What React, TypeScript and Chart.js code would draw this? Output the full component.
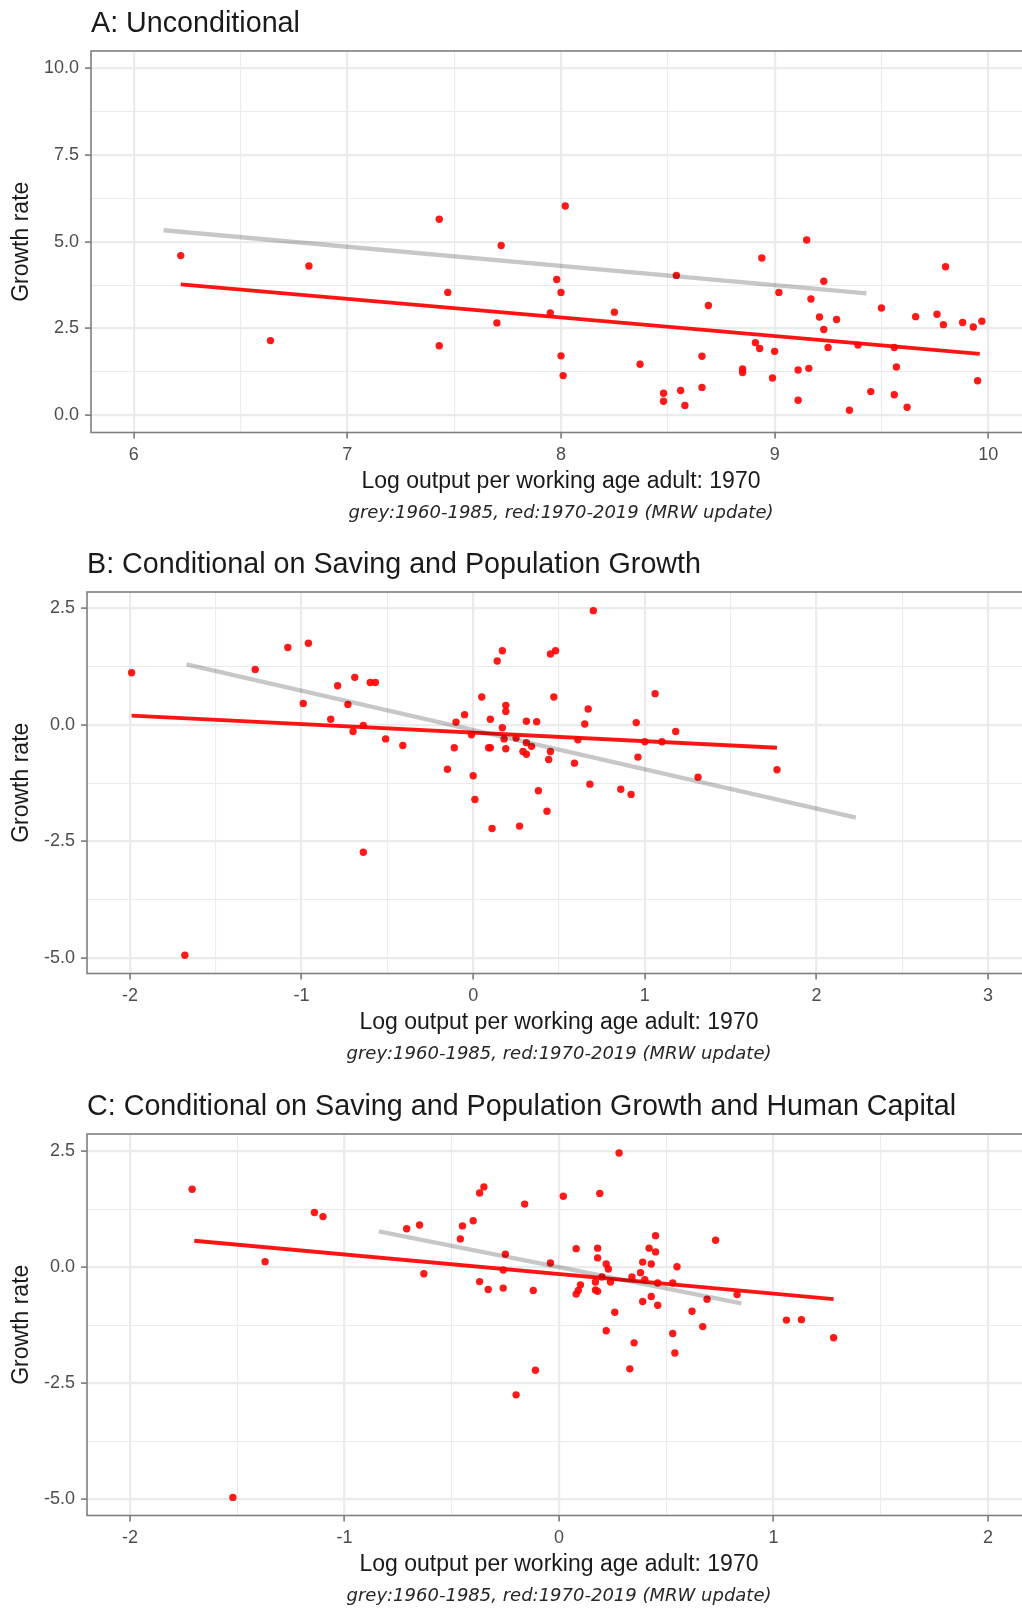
import React, { useEffect, useRef } from 'react';
import { Chart, registerables } from 'chart.js';

Chart.register(...registerables);

const SANS = "'Liberation Sans', Arial, sans-serif";
const OBLIQUE = "'DejaVu Sans', sans-serif";

const X_TITLE = 'Log output per working age adult: 1970';
const Y_TITLE = 'Growth rate';
const NOTE = 'grey:1960-1985, red:1970-2019 (MRW update)';

// ---- Panel A: unconditional ----
const A_TITLE = 'A: Unconditional';
const A_X_TICKS = [6, 7, 8, 9, 10];
const A_X_LABELS = ['6', '7', '8', '9', '10'];
const A_X_MINOR = [6.5, 7.5, 8.5, 9.5];
const A_Y_TICKS = [0, 2.5, 5, 7.5, 10];
const A_Y_LABELS = ['0.0', '2.5', '5.0', '7.5', '10.0'];
const A_Y_MINOR = [1.25, 3.75, 6.25, 8.75];
const A_X = [6.22, 6.64, 6.82, 7.43, 7.43, 7.47, 7.72, 7.7, 8.02, 7.98, 8.0, 7.95, 8.0, 8.01, 8.25, 8.37,
  8.54, 8.48, 8.48, 8.56, 8.58, 8.69, 8.66, 8.66, 8.85, 8.85, 8.91, 8.93, 8.94, 9.0, 9.02, 8.99, 9.11, 9.11,
  9.16, 9.15, 9.17, 9.23, 9.21, 9.23, 9.25, 9.29, 9.35, 9.39, 9.45, 9.5, 9.56, 9.57, 9.56, 9.62, 9.66, 9.76,
  9.79, 9.8, 9.88, 9.93, 9.97, 9.95];
const A_Y = [4.6, 2.15, 4.3, 5.65, 2.0, 3.54, 4.89, 2.66, 6.03, 3.91, 3.54, 2.95, 1.71, 1.14, 2.97, 1.47,
  4.03, 0.63, 0.4, 0.71, 0.28, 3.16, 1.7, 0.8, 1.33, 1.23, 2.09, 1.92, 4.53, 1.84, 3.54, 1.07, 1.3, 0.43,
  1.35, 5.05, 3.35, 3.86, 2.83, 2.47, 1.95, 2.76, 0.14, 2.02, 0.68, 3.09, 1.95, 1.39, 0.59, 0.23, 2.84, 2.91,
  2.61, 4.28, 2.67, 2.54, 2.71, 0.99];
const A_FIT_RED_X = [6.22, 9.96];
const A_FIT_RED_Y = [3.77, 1.77];
const A_FIT_GREY_X = [6.14, 9.43];
const A_FIT_GREY_Y = [5.33, 3.51];

// ---- Panel B: conditional on saving and population growth ----
const B_TITLE = 'B: Conditional on Saving and Population Growth';
const B_X_TICKS = [-2, -1, 0, 1, 2, 3];
const B_X_LABELS = ['-2', '-1', '0', '1', '2', '3'];
const B_X_MINOR = [-1.5, -0.5, 0.5, 1.5, 2.5];
const B_Y_TICKS = [-5, -2.5, 0, 2.5];
const B_Y_LABELS = ['-5.0', '-2.5', '0.0', '2.5'];
const B_Y_MINOR = [-3.75, -1.25, 1.25];
const B_X = [-1.99, -1.68, -1.27, -1.08, -0.96, -0.99, -0.83, -0.79, -0.73, -0.7, -0.69, -0.64, -0.64, -0.6,
  -0.57, -0.51, -0.41, -0.15, -0.11, -0.1, -0.05, -0.01, 0.0, 0.01, 0.05, 0.09, 0.1, 0.1, 0.11, 0.14, 0.17,
  0.17, 0.19, 0.19, 0.18, 0.19, 0.25, 0.27, 0.31, 0.37, 0.31, 0.34, 0.29, 0.31, 0.38, 0.43, 0.45, 0.48, 0.47,
  0.45, 0.44, 0.59, 0.65, 0.61, 0.67, 0.68, 0.7, 0.86, 0.92, 0.95, 0.96, 1.0, 1.06, 1.1, 1.18, 1.31, 1.77];
const B_Y = [1.12, -4.94, 1.19, 1.66, 1.75, 0.46, 0.12, 0.84, 0.44, -0.14, 1.02, -0.01, -2.73, 0.91, 0.91,
  -0.3, -0.44, -0.95, -0.49, 0.06, 0.22, -0.21, -1.09, -1.6, 0.6, -0.49, -0.49, 0.12, -2.22, 1.37, 1.59,
  -0.06, 0.42, 0.29, -0.3, -0.51, -0.28, -2.17, 0.08, 0.07, -0.38, -0.46, -0.57, -0.63, -1.41, -1.85, 1.52,
  1.59, 0.6, -0.57, -0.74, -0.82, 0.02, -0.32, 0.34, -1.27, 2.45, -1.38, -1.49, 0.05, -0.69, -0.36, 0.67,
  -0.36, -0.14, -1.12, -0.96];
const B_FIT_RED_X = [-1.99, 1.77];
const B_FIT_RED_Y = [0.2, -0.49];
const B_FIT_GREY_X = [-1.67, 2.23];
const B_FIT_GREY_Y = [1.3, -1.99];

// ---- Panel C: conditional on saving, population growth and human capital ----
const C_TITLE = 'C: Conditional on Saving and Population Growth and Human Capital';
const C_X_TICKS = [-2, -1, 0, 1, 2];
const C_X_LABELS = ['-2', '-1', '0', '1', '2'];
const C_X_MINOR = [-1.5, -0.5, 0.5, 1.5];
const C_Y_TICKS = [-5, -2.5, 0, 2.5];
const C_Y_LABELS = ['-5.0', '-2.5', '0.0', '2.5'];
const C_Y_MINOR = [-3.75, -1.25, 1.25];
const C_X = [-1.71, -1.52, -1.37, -1.14, -1.1, -0.71, -0.65, -0.63, -0.46, -0.45, -0.4, -0.37, -0.37, -0.35,
  -0.33, -0.26, -0.25, -0.26, -0.2, -0.16, -0.12, -0.11, -0.04, 0.02, 0.08, 0.08, 0.09, 0.1, 0.18, 0.18, 0.19,
  0.2, 0.17, 0.18, 0.17, 0.22, 0.23, 0.24, 0.22, 0.26, 0.28, 0.33, 0.35, 0.34, 0.38, 0.39, 0.39, 0.4, 0.42,
  0.43, 0.43, 0.45, 0.45, 0.46, 0.46, 0.53, 0.55, 0.53, 0.54, 0.62, 0.67, 0.69, 0.73, 0.83, 1.06, 1.13, 1.28];
const C_Y = [1.68, -4.96, 0.12, 1.18, 1.09, 0.83, 0.91, -0.14, 0.61, 0.89, 1.0, -0.31, 1.6, 1.73, -0.48,
  -0.45, 0.28, -0.06, -2.75, 1.36, -0.5, -2.22, 0.09, 1.53, 0.4, -0.58, -0.5, -0.38, 0.41, 0.2, 1.59, -0.21,
  -0.49, -0.52, -0.32, 0.07, -0.04, -0.32, -1.37, -0.97, 2.46, -2.19, -1.63, -0.21, -0.12, 0.11, -0.74,
  -0.27, 0.41, 0.07, -0.63, 0.33, 0.68, -0.82, -0.34, -0.34, 0.01, -1.43, -1.85, -0.95, -1.28, -0.69, 0.58,
  -0.59, -1.14, -1.13, -1.52];
const C_FIT_RED_X = [-1.7, 1.28];
const C_FIT_RED_Y = [0.57, -0.69];
const C_FIT_GREY_X = [-0.84, 0.85];
const C_FIT_GREY_Y = [0.77, -0.78];

// ---- geometry of each panel canvas ----
const CANVAS_W = 1040;
const CANVAS_H = 541;
const PLOT_RIGHT = 1031;
const X_AXIS_H = 65;

type PanelSpec = {
  title: string;
  top: number;
  plotLeft: number;
  xRange: [number, number];
  yRange: [number, number];
  xTicks: number[];
  xLabels: string[];
  xMinor: number[];
  yTicks: number[];
  yLabels: string[];
  yMinor: number[];
  xs: number[];
  ys: number[];
  fitRedX: number[];
  fitRedY: number[];
  fitGreyX: number[];
  fitGreyY: number[];
};

const PANELS: PanelSpec[] = [
  {
    title: A_TITLE, top: 0, plotLeft: 91, xRange: [5.8, 10.2], yRange: [-0.5, 10.5],
    xTicks: A_X_TICKS, xLabels: A_X_LABELS, xMinor: A_X_MINOR,
    yTicks: A_Y_TICKS, yLabels: A_Y_LABELS, yMinor: A_Y_MINOR,
    xs: A_X, ys: A_Y, fitRedX: A_FIT_RED_X, fitRedY: A_FIT_RED_Y, fitGreyX: A_FIT_GREY_X, fitGreyY: A_FIT_GREY_Y,
  },
  {
    title: B_TITLE, top: 541, plotLeft: 87, xRange: [-2.25, 3.25], yRange: [-5.33, 2.85],
    xTicks: B_X_TICKS, xLabels: B_X_LABELS, xMinor: B_X_MINOR,
    yTicks: B_Y_TICKS, yLabels: B_Y_LABELS, yMinor: B_Y_MINOR,
    xs: B_X, ys: B_Y, fitRedX: B_FIT_RED_X, fitRedY: B_FIT_RED_Y, fitGreyX: B_FIT_GREY_X, fitGreyY: B_FIT_GREY_Y,
  },
  {
    title: C_TITLE, top: 1083, plotLeft: 87, xRange: [-2.2, 2.2], yRange: [-5.35, 2.87],
    xTicks: C_X_TICKS, xLabels: C_X_LABELS, xMinor: C_X_MINOR,
    yTicks: C_Y_TICKS, yLabels: C_Y_LABELS, yMinor: C_Y_MINOR,
    xs: C_X, ys: C_Y, fitRedX: C_FIT_RED_X, fitRedY: C_FIT_RED_Y, fitGreyX: C_FIT_GREY_X, fitGreyY: C_FIT_GREY_Y,
  },
];

const toPoints = (xs: number[], ys: number[]) => xs.map((x, i) => ({ x, y: ys[i] }));

// Outline around the plotting region, drawn above the data.
const panelBorder = {
  id: 'panelBorder',
  afterDatasetsDraw(chart: any) {
    const { ctx, chartArea } = chart;
    const { left, top, right, bottom } = chartArea;
    ctx.save();
    ctx.strokeStyle = '#7f7f7f';
    ctx.lineWidth = 1.6;
    ctx.strokeRect(left, top, right - left, bottom - top);
    ctx.restore();
  },
};

function axis(
  range: [number, number],
  major: number[],
  labels: string[],
  minor: number[],
  labelPadding: number,
  title: any,
  afterFit: (scale: any) => void,
) {
  const majorIndex = (v: number) => major.findIndex((m) => Math.abs(m - v) < 1e-9);
  const all = [...major, ...minor].sort((a, b) => a - b);
  return {
    type: 'linear',
    bounds: 'data',
    min: range[0],
    max: range[1],
    afterBuildTicks: (scale: any) => {
      scale.ticks = all.map((value) => ({ value }));
    },
    afterFit,
    ticks: {
      autoSkip: false,
      maxRotation: 0,
      minRotation: 0,
      padding: labelPadding,
      color: '#4d4d4d',
      font: { family: SANS, size: 18 },
      callback: (value: number) => {
        const i = majorIndex(value);
        return i >= 0 ? labels[i] : '';
      },
    },
    grid: {
      color: '#ebebeb',
      lineWidth: (ctx: any) => (ctx.tick && majorIndex(ctx.tick.value) >= 0 ? 2.2 : 1.1),
      drawTicks: true,
      tickLength: 6,
      tickWidth: 1.6,
      tickColor: (ctx: any) =>
        ctx.tick && majorIndex(ctx.tick.value) >= 0 ? '#7a7a7a' : 'rgba(0,0,0,0)',
    },
    border: { display: false },
    title,
  };
}

function buildConfig(p: PanelSpec): any {
  return {
    type: 'scatter',
    data: {
      datasets: [
        {
          label: '1970-2019',
          data: toPoints(p.xs, p.ys),
          showLine: false,
          pointRadius: 3.7,
          pointHoverRadius: 3.7,
          pointBorderWidth: 0,
          pointBackgroundColor: 'rgba(255,0,0,0.9)',
          order: 3,
        },
        {
          label: 'fit 1970-2019',
          data: toPoints(p.fitRedX, p.fitRedY),
          showLine: true,
          borderColor: 'rgba(255,0,0,0.92)',
          borderWidth: 3.8,
          pointRadius: 0,
          order: 2,
        },
        {
          label: 'fit 1960-1985',
          data: toPoints(p.fitGreyX, p.fitGreyY),
          showLine: true,
          borderColor: 'rgba(0,0,0,0.22)',
          borderWidth: 4.4,
          pointRadius: 0,
          order: 1,
        },
      ],
    },
    options: {
      responsive: false,
      maintainAspectRatio: false,
      animation: false,
      devicePixelRatio: 1,
      events: [],
      layout: { padding: { left: 0, top: 0, bottom: 0, right: CANVAS_W - PLOT_RIGHT } },
      scales: {
        x: axis(
          p.xRange, p.xTicks, p.xLabels, p.xMinor, 5.7,
          {
            display: true,
            text: X_TITLE,
            color: '#1a1a1a',
            font: { family: SANS, size: 23 },
            padding: { top: 0, bottom: 1.7 },
          },
          (scale: any) => {
            scale.height = X_AXIS_H;
          },
        ),
        y: axis(
          p.yRange, p.yTicks, p.yLabels, p.yMinor, 6,
          {
            display: true,
            text: Y_TITLE,
            color: '#1a1a1a',
            font: { family: SANS, size: 23 },
            padding: { top: 7.9, bottom: 0 },
          },
          (scale: any) => {
            scale.width = p.plotLeft;
          },
        ),
      },
      plugins: {
        legend: { display: false },
        tooltip: { enabled: false },
        title: {
          display: true,
          text: p.title,
          align: 'start',
          fullSize: false,
          color: '#1a1a1a',
          font: { family: SANS, size: 28.7, weight: 'normal' },
          padding: { top: 7.28, bottom: 9.28 },
        },
        subtitle: {
          display: true,
          position: 'bottom',
          text: NOTE,
          align: 'center',
          fullSize: false,
          color: '#262626',
          font: { family: OBLIQUE, size: 18, style: 'italic', weight: 'normal' },
          padding: { top: 4.7, bottom: 17.2 },
        },
      },
    },
    plugins: [panelBorder],
  };
}

function Panel({ spec }: { spec: PanelSpec }) {
  const ref = useRef<HTMLCanvasElement | null>(null);
  useEffect(() => {
    if (!ref.current) return;
    const chart = new Chart(ref.current, buildConfig(spec));
    return () => chart.destroy();
  }, [spec]);
  return (
    <canvas
      ref={ref}
      width={CANVAS_W}
      height={CANVAS_H}
      style={{
        position: 'absolute',
        left: 0,
        top: spec.top,
        width: CANVAS_W,
        height: CANVAS_H,
        display: 'block',
      }}
    />
  );
}

export default function App() {
  return (
    <div
      style={{
        position: 'fixed',
        left: 0,
        top: 0,
        width: 1022,
        height: 1609,
        overflow: 'hidden',
        background: '#ffffff',
      }}
    >
      {PANELS.map((p) => (
        <Panel key={p.title} spec={p} />
      ))}
    </div>
  );
}
